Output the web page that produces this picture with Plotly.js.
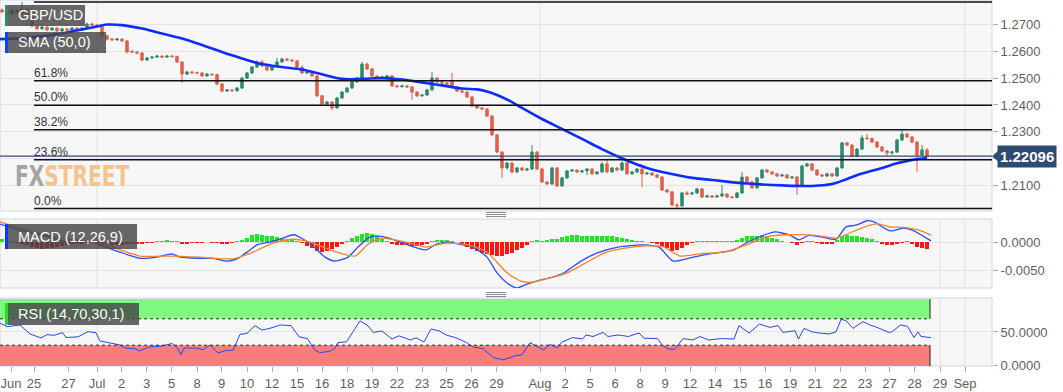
<!DOCTYPE html>
<html><head><meta charset="utf-8">
<script src="https://cdn.plot.ly/plotly-3.0.1.min.js"></script>
<style>html,body{margin:0;padding:0;background:#fff;overflow:hidden}body{position:relative}#chart{width:1063px;height:392px}
#wm{position:absolute;left:15px;top:163px;font-family:'DejaVu Sans Condensed','DejaVu Sans',sans-serif;font-weight:bold;font-size:28px;line-height:28px;height:28px;transform-origin:0 0;transform:scaleX(0.8);white-space:nowrap;pointer-events:none;z-index:5}</style>
</head><body><div id="chart"></div>
<div id="wm"></div>
<script>
// ---------------- DATA ----------------
const open = [1.2753,1.2746,1.2738,1.2753,1.2742,1.2757,1.2738,1.2694,1.2683,1.2690,
1.2679,1.2686,1.2675,1.2683,1.2679,1.2686,1.2679,1.2686,1.2701,1.2697,
1.2694,1.2657,1.2645,1.2642,1.2645,1.2638,1.2600,1.2597,1.2593,1.2567,
1.2575,1.2578,1.2582,1.2578,1.2582,1.2580,1.2560,1.2515,1.2523,1.2520,
1.2519,1.2508,1.2515,1.2513,1.2478,1.2452,1.2456,1.2453,1.2463,1.2500,
1.2519,1.2541,1.2560,1.2545,1.2530,1.2545,1.2560,1.2571,1.2567,1.2564,
1.2541,1.2519,1.2523,1.2508,1.2434,1.2404,1.2411,1.2389,1.2426,1.2448,
1.2463,1.2486,1.2500,1.2552,1.2534,1.2508,1.2500,1.2504,1.2508,1.2471,
1.2468,1.2471,1.2467,1.2448,1.2434,1.2437,1.2456,1.2500,1.2486,1.2482,
1.2490,1.2467,1.2452,1.2448,1.2430,1.2396,1.2389,1.2385,1.2359,1.2289,
1.2225,1.2166,1.2184,1.2151,1.2166,1.2158,1.2162,1.2225,1.2162,1.2114,
1.2106,1.2166,1.2099,1.2129,1.2155,1.2158,1.2151,1.2155,1.2162,1.2144,
1.2151,1.2181,1.2151,1.2166,1.2158,1.2184,1.2144,1.2151,1.2162,1.2144,
1.2147,1.2140,1.2132,1.2084,1.2077,1.2028,1.2025,1.2073,1.2069,1.2073,
1.2088,1.2058,1.2062,1.2058,1.2062,1.2069,1.2058,1.2056,1.2073,1.2132,
1.2114,1.2092,1.2129,1.2158,1.2151,1.2144,1.2136,1.2140,1.2129,1.2132,
1.2099,1.2173,1.2181,1.2158,1.2140,1.2136,1.2144,1.2136,1.2166,1.2259,
1.2251,1.2210,1.2236,1.2277,1.2275,1.2262,1.2244,1.2229,1.2222,1.2225,
1.2270,1.2292,1.2281,1.2262,1.2214,1.2233];
const high = [1.2760,1.2750,1.2758,1.2757,1.2783,1.2760,1.2741,1.2698,1.2695,1.2693,
1.2690,1.2689,1.2687,1.2686,1.2690,1.2689,1.2690,1.2706,1.2705,1.2702,
1.2697,1.2661,1.2649,1.2649,1.2648,1.2641,1.2603,1.2601,1.2596,1.2579,
1.2582,1.2586,1.2585,1.2586,1.2585,1.2584,1.2563,1.2527,1.2526,1.2524,
1.2522,1.2519,1.2518,1.2516,1.2481,1.2460,1.2459,1.2467,1.2505,1.2523,
1.2545,1.2565,1.2568,1.2549,1.2549,1.2575,1.2576,1.2574,1.2570,1.2567,
1.2544,1.2527,1.2526,1.2511,1.2437,1.2415,1.2414,1.2430,1.2452,1.2467,
1.2490,1.2504,1.2560,1.2556,1.2538,1.2511,1.2508,1.2512,1.2511,1.2475,
1.2475,1.2474,1.2470,1.2451,1.2441,1.2460,1.2523,1.2503,1.2489,1.2486,
1.2519,1.2470,1.2456,1.2451,1.2433,1.2400,1.2393,1.2388,1.2362,1.2292,
1.2228,1.2188,1.2187,1.2170,1.2169,1.2166,1.2251,1.2229,1.2166,1.2118,
1.2170,1.2169,1.2133,1.2159,1.2162,1.2161,1.2159,1.2166,1.2165,1.2155,
1.2188,1.2195,1.2170,1.2169,1.2192,1.2188,1.2155,1.2166,1.2166,1.2151,
1.2150,1.2144,1.2136,1.2088,1.2080,1.2035,1.2077,1.2080,1.2077,1.2092,
1.2091,1.2066,1.2065,1.2066,1.2103,1.2072,1.2062,1.2077,1.2151,1.2136,
1.2118,1.2133,1.2162,1.2162,1.2155,1.2148,1.2144,1.2144,1.2136,1.2136,
1.2177,1.2185,1.2184,1.2162,1.2144,1.2148,1.2147,1.2170,1.2263,1.2263,
1.2255,1.2240,1.2288,1.2292,1.2279,1.2266,1.2248,1.2233,1.2229,1.2274,
1.2307,1.2296,1.2285,1.2266,1.2251,1.2240];
const low = [1.2742,1.2733,1.2735,1.2738,1.2740,1.2732,1.2688,1.2678,1.2680,1.2674,
1.2676,1.2671,1.2672,1.2675,1.2676,1.2675,1.2676,1.2683,1.2693,1.2690,
1.2652,1.2640,1.2638,1.2639,1.2634,1.2592,1.2594,1.2589,1.2562,1.2564,
1.2572,1.2575,1.2574,1.2575,1.2576,1.2556,1.2482,1.2511,1.2516,1.2514,
1.2504,1.2505,1.2509,1.2473,1.2446,1.2448,1.2449,1.2450,1.2460,1.2497,
1.2516,1.2538,1.2541,1.2526,1.2527,1.2542,1.2557,1.2563,1.2560,1.2537,
1.2515,1.2515,1.2504,1.2430,1.2400,1.2400,1.2381,1.2386,1.2423,1.2445,
1.2460,1.2483,1.2497,1.2530,1.2504,1.2496,1.2497,1.2501,1.2467,1.2464,
1.2465,1.2463,1.2419,1.2430,1.2431,1.2434,1.2453,1.2482,1.2478,1.2475,
1.2464,1.2448,1.2445,1.2426,1.2392,1.2386,1.2382,1.2355,1.2285,1.2220,
1.2129,1.2160,1.2146,1.2147,1.2154,1.2155,1.2158,1.2158,1.2110,1.2102,
1.2103,1.2095,1.2096,1.2125,1.2151,1.2147,1.2148,1.2140,1.2140,1.2141,
1.2148,1.2147,1.2148,1.2154,1.2155,1.2140,1.2141,1.2148,1.2095,1.2140,
1.2136,1.2128,1.2080,1.2073,1.2024,1.2015,1.2020,1.2065,1.2066,1.2070,
1.2054,1.2055,1.2054,1.2055,1.2058,1.2054,1.2052,1.2053,1.2070,1.2110,
1.2088,1.2089,1.2126,1.2147,1.2140,1.2132,1.2133,1.2125,1.2126,1.2065,
1.2096,1.2170,1.2154,1.2136,1.2132,1.2133,1.2132,1.2133,1.2163,1.2247,
1.2206,1.2207,1.2233,1.2271,1.2258,1.2240,1.2225,1.2210,1.2215,1.2222,
1.2266,1.2277,1.2258,1.2151,1.2210,1.2205];
const close = [1.2746,1.2738,1.2753,1.2742,1.2757,1.2738,1.2694,1.2683,1.2690,1.2679,
1.2686,1.2675,1.2683,1.2679,1.2686,1.2679,1.2686,1.2701,1.2697,1.2694,
1.2657,1.2645,1.2642,1.2645,1.2638,1.2597,1.2597,1.2593,1.2567,1.2575,
1.2578,1.2582,1.2578,1.2582,1.2580,1.2560,1.2515,1.2523,1.2520,1.2519,
1.2508,1.2515,1.2513,1.2478,1.2452,1.2456,1.2453,1.2463,1.2500,1.2519,
1.2541,1.2560,1.2545,1.2530,1.2545,1.2560,1.2571,1.2567,1.2564,1.2541,
1.2519,1.2523,1.2508,1.2434,1.2404,1.2411,1.2389,1.2426,1.2448,1.2463,
1.2486,1.2500,1.2552,1.2534,1.2508,1.2500,1.2504,1.2508,1.2471,1.2468,
1.2471,1.2467,1.2448,1.2434,1.2437,1.2456,1.2500,1.2486,1.2482,1.2478,
1.2467,1.2452,1.2448,1.2430,1.2396,1.2389,1.2385,1.2359,1.2289,1.2225,
1.2166,1.2184,1.2151,1.2166,1.2158,1.2162,1.2225,1.2162,1.2114,1.2106,
1.2166,1.2099,1.2129,1.2155,1.2158,1.2151,1.2155,1.2162,1.2144,1.2151,
1.2181,1.2151,1.2166,1.2158,1.2184,1.2144,1.2151,1.2162,1.2144,1.2147,
1.2140,1.2132,1.2084,1.2077,1.2028,1.2025,1.2073,1.2069,1.2073,1.2088,
1.2058,1.2062,1.2058,1.2062,1.2069,1.2058,1.2056,1.2073,1.2132,1.2114,
1.2092,1.2129,1.2158,1.2151,1.2144,1.2136,1.2140,1.2129,1.2132,1.2099,
1.2173,1.2181,1.2158,1.2140,1.2136,1.2144,1.2136,1.2166,1.2259,1.2251,
1.2210,1.2236,1.2277,1.2275,1.2262,1.2244,1.2229,1.2222,1.2225,1.2270,
1.2292,1.2281,1.2262,1.2214,1.2233,1.22096];

const smaX = [-0.4,4,8,12,16,19,21,24,28,32,36,40,44,48,52,56,60,64,68,72,76,80,84,88,92,95,97,99,102,104,108,112,116,120,123,126,129,133,138,142,149,156,162,166,169,172,176,179,182,185];
const smaV = [1.2645,1.2648,1.2655,1.2666,1.2681,1.2692,1.2699,1.2697,1.2684,1.2666,1.2647,1.2623,1.2597,1.2573,1.2552,1.2541,1.2532,1.2514,1.2497,1.2497,1.2500,1.2495,1.2484,1.2473,1.2461,1.2458,1.2450,1.2437,1.2411,1.2389,1.2348,1.2311,1.2274,1.2236,1.2210,1.2186,1.2166,1.2147,1.2129,1.2121,1.2108,1.2101,1.2099,1.2106,1.2125,1.2145,1.2166,1.2183,1.2196,1.2203];

const macdHist = [0.0006,0.0004,0.0001,-0.0001,-0.0003,-0.0006,-0.0009,-0.0011,-0.0012,-0.0011,
-0.0010,-0.0008,-0.0007,-0.0005,-0.0004,-0.0003,-0.0003,-0.0002,-0.0002,-0.0003,
-0.0004,-0.0005,-0.0005,-0.0005,-0.0005,-0.0004,-0.0004,-0.0004,-0.0004,-0.0002,
-0.0001,0.0001,0.0002,0.0003,0.0002,0.0001,-0.0003,-0.0003,-0.0002,-0.0002,
-0.0001,0.0000,-0.0001,-0.0002,-0.0003,-0.0003,-0.0002,0.0001,0.0004,0.0008,
0.0012,0.0014,0.0013,0.0011,0.0010,0.0009,0.0008,0.0006,0.0003,0.0001,
-0.0002,-0.0007,-0.0011,-0.0016,-0.0018,-0.0016,-0.0013,-0.0009,-0.0004,0.0002,
0.0007,0.0011,0.0015,0.0016,0.0014,0.0010,0.0006,0.0002,-0.0003,-0.0006,
-0.0006,-0.0006,-0.0007,-0.0007,-0.0006,-0.0004,0.0001,0.0003,0.0003,0.0003,
0.0002,0.0000,-0.0004,-0.0008,-0.0012,-0.0016,-0.0019,-0.0022,-0.0024,-0.0025,
-0.0025,-0.0022,-0.0019,-0.0015,-0.0010,-0.0005,0.0001,0.0003,0.0002,0.0003,
0.0005,0.0005,0.0009,0.0011,0.0012,0.0012,0.0011,0.0011,0.0010,0.0011,
0.0011,0.0010,0.0010,0.0009,0.0008,0.0006,0.0004,0.0002,0.0001,0.0000,
-0.0001,-0.0003,-0.0007,-0.0011,-0.0016,-0.0015,-0.0010,-0.0006,-0.0002,0.0001,
0.0001,0.0001,0.0002,0.0002,0.0002,0.0002,0.0002,0.0004,0.0008,0.0010,
0.0010,0.0011,0.0012,0.0010,0.0008,0.0005,0.0002,0.0000,-0.0002,-0.0006,
-0.0002,0.0001,0.0001,-0.0002,-0.0003,-0.0004,-0.0003,0.0003,0.0011,0.0012,
0.0011,0.0010,0.0009,0.0008,0.0005,0.0002,-0.0003,-0.0006,-0.0006,-0.0004,
-0.0001,0.0001,-0.0004,-0.0009,-0.0011,-0.0012];

const macdX = [-0.4,3.6,8.6,13,18.2,19.6,23.6,27.6,31,34,35.6,39.6,42.2,45,47,49,51,53.6,56.2,58.4,61.8,64.6,66.6,69.2,71.2,73.2,74.6,77.4,80.8,84.8,86.8,88.8,91.6,94.2,97,99,101,103,105,107.6,109.6,112.4,115.8,119.2,123.2,128,131.4,134.2,138.2,141.6,146.4,149.2,152.6,154.6,157.4,159.4,161.4,164,166.8,168.8,170.8,173,174.4,177.6,180.4,182.4,185.8];
const macdV = [0.0032,0.0021,0.0011,0.0000,0.0000,-0.0005,-0.0018,-0.0029,-0.0027,-0.0021,-0.0027,-0.0029,-0.0029,-0.0034,-0.0030,-0.0018,-0.0005,0.0000,0.0007,0.0013,-0.0004,-0.0027,-0.0034,-0.0027,-0.0009,0.0007,0.0011,0.0007,-0.0004,-0.0014,-0.0004,0.0000,-0.0004,-0.0009,-0.0027,-0.0055,-0.0073,-0.0082,-0.0075,-0.0068,-0.0064,-0.0055,-0.0034,-0.0019,-0.0009,-0.0005,-0.0009,-0.0034,-0.0027,-0.0021,-0.0014,0.0000,0.0013,0.0018,0.0013,0.0004,0.0012,0.0009,0.0005,0.0027,0.0030,0.0038,0.0036,0.0020,0.0025,0.0020,0.0002];
const sigX = [-0.4,3.6,11.6,19.6,27.6,33.6,39.6,46.2,50.2,54.2,58.2,61.6,65.6,70.6,73.2,76,80.8,84.8,88.8,92.8,97,101,103.8,105.6,109.6,113,116.4,120.6,124.6,128.8,132.2,135.6,139.6,145,149.2,153.2,157.2,162.8,166.8,170.8,173.6,175,177.6,180.4,183.8,185.8];
const sigV = [0.0036,0.0025,0.0007,-0.0002,-0.0025,-0.0025,-0.0027,-0.0030,-0.0018,-0.0002,0.0005,0.0000,-0.0014,-0.0025,-0.0004,0.0007,0.0000,-0.0009,-0.0002,-0.0004,-0.0018,-0.0055,-0.0070,-0.0072,-0.0064,-0.0055,-0.0039,-0.0019,-0.0011,-0.0007,-0.0008,-0.0025,-0.0021,-0.0017,-0.0004,0.0010,0.0013,0.0012,0.0007,0.0021,0.0030,0.0033,0.0027,0.0026,0.0020,0.0012];

const rsiX = [-0.4,1,3.6,5.6,7.8,9,10.4,12.1,12.8,15.2,17.2,18.8,19.6,21.9,23.6,24.6,26.6,27.4,29.4,32,34,35.1,35.8,36.4,38.8,40.2,41.6,43.2,44.9,46.2,47.6,49,50.6,52,53.6,55.7,57.8,59.4,61.1,62.4,63.5,65.5,66.5,67.2,68.9,70.2,71.6,73,74.3,76,78,79.4,81.7,82.8,84.4,85.8,87.5,88.8,90.8,92.9,94.2,96.2,98.3,100.3,102.4,104,105.6,108.3,109.6,111,112,114.1,116.1,116.8,118.2,120.2,121.2,123.2,125.3,127.4,128.4,131.1,132.1,133.2,134.5,136.2,138.2,139.6,141.3,143.7,146.4,147.4,149.4,151.5,153.6,155.2,156.2,158.6,159.3,160.4,162,163.4,165.4,166.8,167.8,168.8,170.2,172.2,173.6,175,177.4,178,179.7,181.1,182.4,183.2,183.8,185.8];
const rsiV = [63.6,58,60.6,47,41,46,45,49,41.6,42.7,50.5,49,36.4,33.5,30.3,25.8,24.8,21.2,27.3,28.8,32.6,25.8,15.6,25.8,25.8,23.3,30.3,18.2,22.3,22.3,46.4,47.9,59.7,53,55.6,60.6,59.7,42.7,40,23.8,18.6,20.8,24.8,34,35,50.5,66.8,60.6,49.4,51.5,39.4,44.2,37.9,41.2,35,54.5,51.5,45.5,41.2,34,27.3,24.8,11,7.9,13.6,15.6,33.8,22.7,31.2,26,34.8,41.5,39.4,45.5,43.2,49.4,43.2,45.5,43.2,48.5,40.6,40,29.7,24.5,23.5,40,37.9,43.2,37.9,40,39.4,59.7,48.5,62,57,59.7,49.4,52,39.4,55.5,50.3,48.5,47,50.3,69,67.4,55.5,65.8,60.6,57,49.4,50.3,60.6,58.6,41.5,50.3,43.2,41.5];

const fibLevels = [1.2015, 1.2196, 1.2308, 1.2399, 1.2490, 1.2783];
const fibLabels = ['0.0%', '23.6%', '38.2%', '50.0%', '61.8%', ''];
const lastPrice = 1.22096;

const tickIdx = [1.8,6.4,13.3,19,23.9,28.9,33.9,39,43.9,49,54,59,64,69,74,79,84,88.9,93.9,98.9,107.6,112.6,117.6,122.6,127.6,132.6,137.6,142.6,147.6,152.6,157.6,162.6,167.6,172.6,177.5,182.5,187.6,192.6];
const tickLabels = ['Jun','25','27','Jul','2','3','5','8','9','10','12','15','16','18','19','22','23','25','26','29','Aug','2','5','6','8','9','12','14','15','16','19','21','22','23','27','28','29','Sep'];

const priceTicks = [1.21, 1.22, 1.23, 1.24, 1.25, 1.26, 1.27];
const priceTickText = ['1.2100', '', '1.2300', '1.2400', '1.2500', '1.2600', '1.2700'];

const panelTitles = ['GBP/USD', 'SMA (50,0)', 'MACD (12,26,9)', 'RSI (14,70,30,1)'];
const watermark = ['FX', 'STREET'];

// ---------------- DRAW ----------------
const idx = close.map((_, i) => i);
const W = 992, H = 366;
const px = x => x / W;
const py = y => (H - y) / H;
const FONT = 'Liberation Sans, Arial, sans-serif';
const lastIdx = idx[idx.length - 1] + 0.6;

const traces = [
  {type: 'candlestick', x: idx, open: open, high: high, low: low, close: close,
   xaxis: 'x', yaxis: 'y', hoverinfo: 'skip', showlegend: false, whiskerwidth: 0,
   increasing: {line: {color: '#2e8a6a', width: 1}, fillcolor: '#2e8a6a'},
   decreasing: {line: {color: '#e0604b', width: 1}, fillcolor: '#e0604b'}},
  {type: 'scatter', mode: 'lines', x: smaX, y: smaV, xaxis: 'x', yaxis: 'y',
   line: {color: '#0b2dff', width: 2.6, shape: 'spline', smoothing: 1}, hoverinfo: 'skip'},
  {type: 'bar', x: idx, y: macdHist, xaxis: 'x', yaxis: 'y2', width: 0.9,
   marker: {color: macdHist.map(v => v >= 0 ? '#1ee81e' : '#ff1414'), line: {width: 0}}, hoverinfo: 'skip'},
  {type: 'scatter', mode: 'lines', x: macdX, y: macdV, xaxis: 'x', yaxis: 'y2',
   line: {color: '#2a50f2', width: 1.3, shape: 'spline', smoothing: 0.6}, hoverinfo: 'skip'},
  {type: 'scatter', mode: 'lines', x: sigX, y: sigV, xaxis: 'x', yaxis: 'y2',
   line: {color: '#f5832a', width: 1.3, shape: 'spline', smoothing: 0.6}, hoverinfo: 'skip'},
  {type: 'scatter', mode: 'lines', x: rsiX, y: rsiV, xaxis: 'x', yaxis: 'y3',
   line: {color: '#2448ee', width: 1}, hoverinfo: 'skip'}
];

const shapes = [];
['y', 'y2', 'y3'].forEach(a => {
  shapes.push({type: 'rect', layer: 'below', xref: 'paper', yref: a + ' domain', x0: 0, x1: 1, y0: 0, y1: 1,
    fillcolor: '#f7f7f7', line: {color: '#cdd4e2', width: 1}});
});
shapes.push({type: 'rect', layer: 'below', xref: 'x', yref: 'y3', x0: -0.4, x1: lastIdx, y0: 70, y1: 100,
  fillcolor: '#7ff97f', line: {width: 0}});
shapes.push({type: 'rect', layer: 'below', xref: 'x', yref: 'y3', x0: -0.4, x1: lastIdx, y0: -1.5, y1: 30,
  fillcolor: '#f97d7d', line: {width: 0}});
[19, 107.6, 192.6].forEach(v => shapes.push({type: 'line', layer: 'below', xref: 'x', yref: 'y domain',
  x0: v, x1: v, y0: 0, y1: 1, line: {color: '#e2e2e2', width: 1}}));
[19, 107.6, 187.6, 192.6].forEach(v => ['y2', 'y3'].forEach(a => shapes.push({type: 'line', layer: 'below',
  xref: 'x', yref: a + ' domain', x0: v, x1: v, y0: 0, y1: 1, line: {color: '#e2e2e2', width: 1}})));
[70, 30].forEach(v => shapes.push({type: 'line', xref: 'x', yref: 'y3', x0: -0.4, x1: lastIdx, y0: v, y1: v,
  line: {color: '#222', width: 1, dash: 'dot'}}));
shapes.push({type: 'line', xref: 'x', yref: 'y3', x0: lastIdx, x1: lastIdx, y0: 70, y1: 100, line: {color: '#222', width: 1}});
shapes.push({type: 'line', xref: 'x', yref: 'y3', x0: lastIdx, x1: lastIdx, y0: -1.5, y1: 30, line: {color: '#222', width: 1}});
fibLevels.forEach(v => shapes.push({type: 'line', xref: 'paper', yref: 'y', x0: px(34), x1: 1, y0: v, y1: v,
  line: {color: '#111', width: 1.5}}));
shapes.push({type: 'line', xref: 'paper', yref: 'y', x0: 0, x1: 1, y0: lastPrice, y1: lastPrice,
  line: {color: '#2c4a78', width: 1.2}});
shapes.push({type: 'path', xref: 'paper', yref: 'y', fillcolor: '#2d4a73', line: {width: 0},
  path: `M ${px(992)},${lastPrice} L ${px(998)},${lastPrice + 0.0019} L ${px(998)},${lastPrice - 0.0019} Z`});
const boxes = [
  {x1: 85, y0: 5, y1: 26, bar: '#2e8a6a', ty: 15.5},
  {x1: 106, y0: 32, y1: 53, bar: '#1040ff', ty: 42.5},
  {x1: 137, y0: 224, y1: 249, bar: '#0a38ff', ty: 236.5},
  {x1: 139, y0: 303, y1: 325, bar: '#22e022', ty: 314}
];
boxes.forEach(b => {
  shapes.push({type: 'rect', xref: 'paper', yref: 'paper', x0: px(6), x1: px(b.x1), y0: py(b.y1), y1: py(b.y0),
    fillcolor: 'rgba(70,70,70,0.82)', line: {width: 0}});
  shapes.push({type: 'rect', xref: 'paper', yref: 'paper', x0: px(5), x1: px(8), y0: py(b.y1), y1: py(b.y0),
    fillcolor: b.bar, line: {width: 0}});
});
[212.5, 214.5, 216.5, 292.5, 294.5, 296.5].forEach(y => shapes.push({type: 'line', xref: 'paper', yref: 'paper',
  x0: px(486), x1: px(506), y0: py(y), y1: py(y), line: {color: '#8a8a8a', width: 1}}));

const annotations = [];
fibLevels.forEach((v, i) => {
  if (!fibLabels[i]) return;
  annotations.push({xref: 'paper', yref: 'y', x: px(33), y: v, xanchor: 'left', yanchor: 'bottom', showarrow: false,
    text: fibLabels[i], font: {family: FONT, size: 12, color: '#333'}, borderpad: 0, yshift: 0});
});
panelTitles.forEach((t, i) => annotations.push({xref: 'paper', yref: 'paper', x: px(16), y: py(boxes[i].ty),
  xanchor: 'left', yanchor: 'middle', showarrow: false, text: t, font: {family: FONT, size: 14.5, color: '#ffffff'}}));
annotations.push({xref: 'paper', yref: 'y', x: 1, y: lastPrice, xanchor: 'left', yanchor: 'middle', xshift: 5,
  showarrow: false, text: '<b>' + lastPrice.toFixed(5) + '</b>', bgcolor: '#2d4a73', borderpad: 2,
  font: {family: FONT, size: 15, color: '#ffffff'}});

const yCommon = {side: 'right', anchor: 'x', ticks: 'outside', ticklen: 5, tickcolor: '#b0b0b0',
  tickfont: {family: FONT, size: 13, color: '#5f5f5f'}, gridcolor: '#e4e4e4', zeroline: false, showline: false,
  fixedrange: true};

const layout = {
  width: 1063, height: 392, margin: {l: 0, r: 71, t: 0, b: 26},
  paper_bgcolor: '#ffffff', plot_bgcolor: '#ffffff', showlegend: false, hovermode: false, bargap: 0,
  xaxis: {range: [-0.4, 198], tickvals: tickIdx, ticktext: tickLabels, ticks: 'outside', ticklen: 5,
    tickcolor: '#b0b0b0', tickfont: {family: FONT, size: 13, color: '#5f5f5f'}, showgrid: false,
    ticklabeloverflow: 'allow', zeroline: false, showline: false, anchor: 'y3',
    rangeslider: {visible: false}, fixedrange: true},
  yaxis: Object.assign({}, yCommon, {domain: [0.4235, 1], range: [1.20059, 1.27903],
    tickvals: priceTicks, ticktext: priceTickText}),
  yaxis2: Object.assign({}, yCommon, {domain: [0.2131, 0.4016], range: [-0.00821, 0.00411],
    tickvals: [0, -0.005], ticktext: ['0.0000', '-0.0050']}),
  yaxis3: Object.assign({}, yCommon, {domain: [0, 0.1858], range: [-1.5, 101.5],
    tickvals: [0, 50], ticktext: ['0.0000', '50.0000']}),
  shapes: shapes, annotations: annotations
};

// watermark text (real text, horizontally condensed)
const wm = document.getElementById('wm');
const s1 = document.createElement('span'); s1.style.color = '#a4a4a4'; s1.textContent = watermark[0];
const s2 = document.createElement('span'); s2.style.color = '#f4c48e'; s2.textContent = watermark[1];
wm.appendChild(s1); wm.appendChild(s2);

Plotly.newPlot('chart', traces, layout, {displayModeBar: false, staticPlot: true});
</script>
</body></html>
